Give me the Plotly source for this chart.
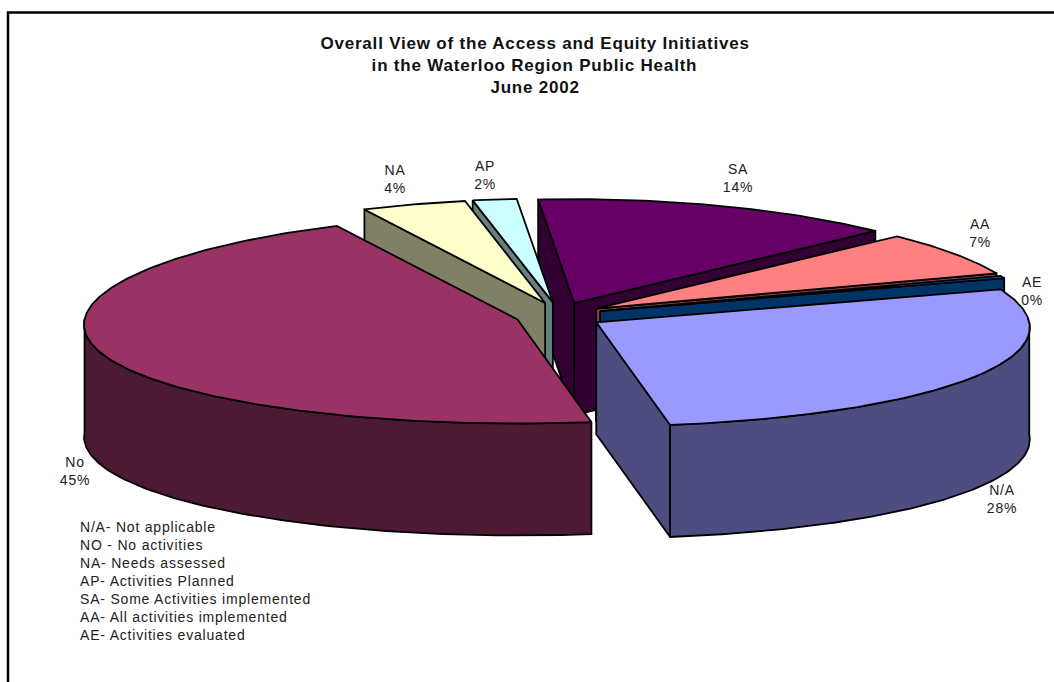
import math
import plotly.graph_objects as go

# Slice data, in the order they run clockwise round the pie
labels = ["N/A", "No", "NA", "AP", "SA", "AA", "AE"]
values = [27.54, 45.4, 4.08, 1.72, 14.2, 6.7, 0.36]

title_lines = [
    "Overall View of the Access and Equity Initiatives",
    "in the Waterloo Region Public Health",
    "June 2002",
]
key_lines = [
    "N/A- Not applicable",
    "NO - No activities",
    "NA- Needs assessed",
    "AP- Activities Planned",
    "SA- Some Activities implemented",
    "AA- All activities implemented",
    "AE- Activities evaluated",
]

# Colours per slice
top_colors = ["#9999FF", "#993366", "#FFFFCC", "#CCFFFF", "#660066", "#FF8080", "#0066CC"]
side_colors = ["#4D4D80", "#4D1A33", "#808066", "#668080", "#330033", "#804040", "#003366"]

# Pie projection, in pixels
W, H = 1054, 682
CX, CY = 559.0, 315.5
RX, RY = 433.0, 104.0
DEPTH = 112.0
EXPLODE_X, EXPLODE_Y = 43.5, 13.2
FIRST_ANGLE = 71.5
PERSPECTIVE = 0.05  # far rim narrows, near rim widens

# Data label centres, slice by slice
label_pos = [(1002, 499), (75, 471), (395, 179), (485, 175), (738, 178), (980, 233), (1032, 291)]

# Painter's order: far slices first
draw_order = [4, 3, 2, 5, 6, 1, 0]


def arc(apex, a0, a1, drop=0.0):
    n = max(2, int(abs(a1 - a0) / 0.75) + 2)
    pts = []
    for i in range(n):
        t = math.radians(a0 + (a1 - a0) * i / (n - 1))
        scale = 1 - PERSPECTIVE * math.cos(t)
        pts.append((apex[0] + RX * math.sin(t) * scale, apex[1] - RY * math.cos(t) + drop))
    return pts


def face(fig, pts, color):
    xs = [p[0] for p in pts] + [pts[0][0]]
    ys = [p[1] for p in pts] + [pts[0][1]]
    fig.add_trace(go.Scatter(
        x=xs, y=ys, mode="lines", fill="toself", fillcolor=color,
        line=dict(color="#000000", width=1.8), hoverinfo="skip", showlegend=False,
    ))


total = sum(values)
spans = []
angle = FIRST_ANGLE
for v in values:
    sweep = 360.0 * v / total
    spans.append((angle, angle + sweep))
    angle += sweep

fig = go.Figure()

for i in draw_order:
    a0, a1 = spans[i]
    mid = math.radians((a0 + a1) / 2)
    apex = (CX + EXPLODE_X * math.sin(mid), CY - EXPLODE_Y * math.cos(mid))

    # Cut faces below the straight edges, only those turned towards the viewer
    if math.sin(math.radians(a0)) < 0:
        corner = arc(apex, a0, a0)[0]
        face(fig, [apex, corner, (corner[0], corner[1] + DEPTH), (apex[0], apex[1] + DEPTH)], side_colors[i])
    if math.sin(math.radians(a1)) > 0:
        corner = arc(apex, a1, a1)[0]
        face(fig, [apex, corner, (corner[0], corner[1] + DEPTH), (apex[0], apex[1] + DEPTH)], side_colors[i])

    # Outer wall, only where the rim faces the viewer (90..270 degrees)
    for k in (-1, 0, 1):
        lo = max(a0, 90 + 360 * k)
        hi = min(a1, 270 + 360 * k)
        if hi > lo:
            face(fig, arc(apex, lo, hi) + arc(apex, hi, lo, DEPTH), side_colors[i])

    # Top surface
    face(fig, [apex] + arc(apex, a0, a1), top_colors[i])

TEXT = "#222222"
annotations = []
for name, v, (lx, ly) in zip(labels, values, label_pos):
    annotations.append(dict(
        x=lx, y=ly, text=f"{name}<br>{round(v)}%", showarrow=False, xanchor="center", yanchor="middle",
        font=dict(family="Liberation Sans", size=14, color=TEXT),
    ))
for line, ty in zip(title_lines, (43, 65, 87)):
    annotations.append(dict(
        x=534.5, y=ty, text=f"<b>{line}</b>", showarrow=False, xanchor="center", yanchor="middle",
        font=dict(family="Liberation Sans", size=17, color="#111111"),
    ))

# Abbreviation key, left aligned below the pie
fig.add_trace(go.Scatter(
    x=[80] * len(key_lines), y=[528 + 18 * n for n in range(len(key_lines))],
    mode="text", text=key_lines, textposition="middle right",
    textfont=dict(family="Liberation Sans", size=14, color=TEXT),
    hoverinfo="skip", showlegend=False,
))

# Frame: left and top rules of the chart area
shapes = [dict(type="path", path=f"M 8 {H} L 8 12.5 L {W} 12.5",
               line=dict(color="#000000", width=2.5))]

fig.update_layout(
    width=W, height=H, margin=dict(l=0, r=0, t=0, b=0),
    paper_bgcolor="#FFFFFF", plot_bgcolor="#FFFFFF", showlegend=False,
    xaxis=dict(range=[0, W], visible=False, fixedrange=True),
    yaxis=dict(range=[H, 0], visible=False, fixedrange=True),
    annotations=annotations, shapes=shapes,
)

# Open the tracking of all chart text a little
spacing_js = """
document.querySelectorAll('.annotation-text, .textpoint text').forEach(function (t) {
  t.style.letterSpacing = '0.8px';
});
"""
fig.write_html("out.html", config={"displayModeBar": False}, post_script=spacing_js)
